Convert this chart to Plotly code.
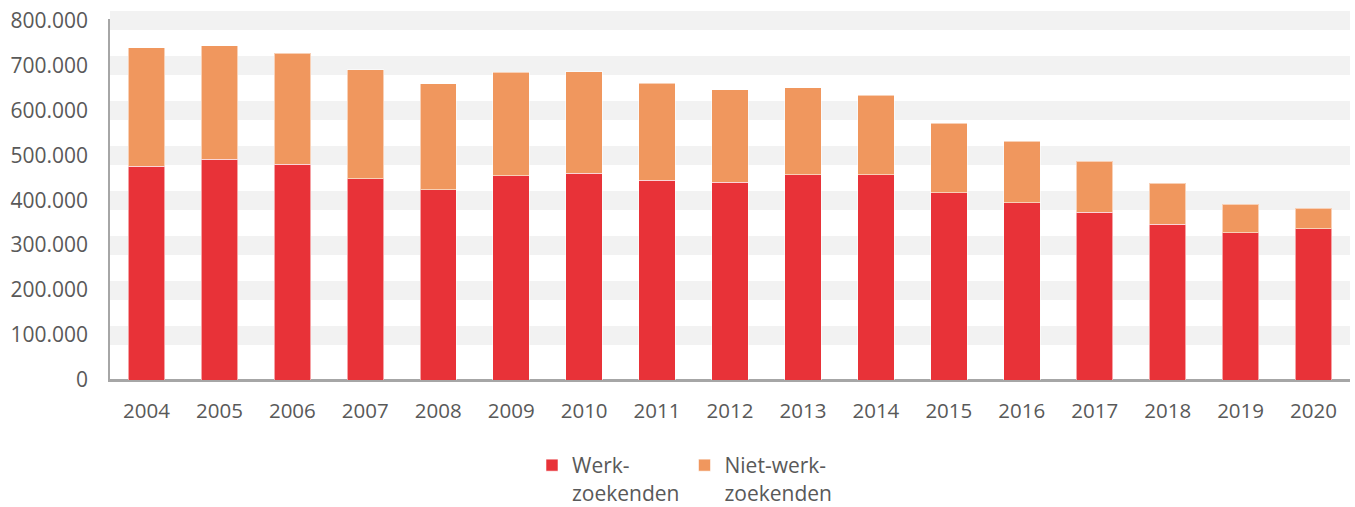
import plotly.graph_objects as go

years = ["2004", "2005", "2006", "2007", "2008", "2009", "2010", "2011", "2012",
         "2013", "2014", "2015", "2016", "2017", "2018", "2019", "2020"]
werkzoekenden = [475000, 491000, 480000, 448000, 423000, 454000, 460000, 444000, 440000,
                 457000, 457000, 416000, 394000, 373000, 347000, 328000, 337000]
niet_werkzoekenden = [264000, 252000, 247000, 242000, 236000, 231000, 226000, 216000, 206000,
                      193000, 176000, 155000, 137000, 114000, 91000, 63000, 45000]
y_ticks = [0, 100000, 200000, 300000, 400000, 500000, 600000, 700000, 800000]

FONT = "Open Sans"
GREY = "#595959"

W, H = 1355, 507
L, R, T, B = 110, 5, 19.15, 126.5

fig = go.Figure()
fig.add_trace(go.Bar(
    x=years, y=werkzoekenden, name="Werk-<br>zoekenden",
    marker=dict(color="#E83238", line=dict(color="rgba(255,255,255,0.55)", width=1)),
))
fig.add_trace(go.Bar(
    x=years, y=niet_werkzoekenden, name="Niet-werk-<br>zoekenden",
    marker=dict(color="#F0975E", line=dict(color="rgba(255,255,255,0.55)", width=1)),
))

fig.update_layout(
    barmode="stack",
    bargap=0.5,
    width=W, height=H,
    margin=dict(l=L, r=R, t=T, b=B, pad=0, autoexpand=False),
    paper_bgcolor="white",
    plot_bgcolor="white",
    separators=",.",
    font=dict(family=FONT, color=GREY, size=20.5),
    legend=dict(
        orientation="h",
        x=(532 - L) / (W - L - R), xanchor="left",
        yref="container", y=1 - 445 / H, yanchor="top",
        valign="top",
        font=dict(family=FONT, color=GREY, size=21),
        traceorder="normal",
    ),
    showlegend=True,
)
fig.update_xaxes(
    type="category",
    showgrid=False,
    showline=True, linecolor="#A6A6A6", linewidth=1.5,
    ticks="", ticklabelstandoff=12,
    tickfont=dict(family=FONT, color=GREY, size=20.5),
)
fig.update_yaxes(
    range=[0, 803000],
    tickvals=y_ticks,
    tickformat=",d",
    showgrid=True, gridcolor="#F2F2F2", gridwidth=19,
    zeroline=True, zerolinecolor="#A6A6A6", zerolinewidth=1.5,
    showline=True, linecolor="#A6A6A6", linewidth=1.5,
    ticks="", ticklabelstandoff=16,
    ticklabeloverflow="allow",
    tickfont=dict(family=FONT, color=GREY, size=21),
)

fig.write_html("out.html", config={"displayModeBar": False},
               post_script="document.body.style.margin='0';")
